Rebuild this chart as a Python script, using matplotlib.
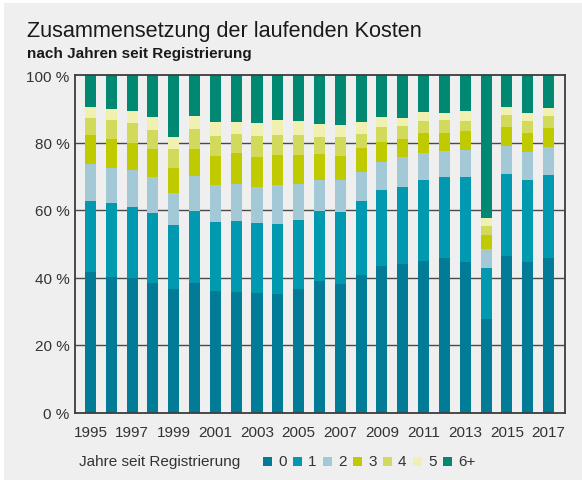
import matplotlib.pyplot as plt
from matplotlib.patches import Rectangle
import numpy as np

plt.rcParams['font.family'] = ['Liberation Sans', 'DejaVu Sans']

years = np.arange(1995, 2018)
jahr0 = [41.5, 40.1, 39.8, 38.3, 36.5, 38.3, 35.9, 35.6, 35.3, 35.0, 36.5, 38.9,
         38.0, 40.7, 43.3, 43.9, 44.8, 45.7, 44.5, 27.6, 46.3, 44.5, 45.7]
jahr1 = [21.1, 21.9, 21.0, 20.8, 19.0, 21.3, 20.5, 21.1, 20.8, 20.8, 20.5, 20.7,
         21.3, 21.9, 22.6, 22.9, 24.0, 24.0, 25.2, 15.1, 24.3, 24.3, 24.6]
jahr2 = [11.0, 10.4, 11.0, 10.6, 9.5, 10.4, 11.0, 11.0, 10.7, 11.6, 10.7, 9.2,
         9.5, 8.6, 8.3, 8.9, 8.1, 7.7, 8.0, 5.7, 8.3, 8.4, 8.3]
jahr3 = [8.6, 8.6, 8.0, 8.3, 7.4, 8.0, 8.6, 9.2, 8.9, 8.9, 8.6, 7.8,
         7.2, 7.1, 5.9, 5.3, 5.9, 5.4, 5.7, 4.1, 5.7, 5.6, 5.7]
jahr4 = [5.0, 5.6, 6.0, 5.7, 5.6, 6.0, 5.9, 5.6, 6.2, 5.9, 5.9, 5.0,
         5.6, 4.2, 4.5, 3.9, 3.6, 3.8, 3.0, 2.7, 3.5, 3.6, 3.5]
jahr5 = [3.3, 3.3, 3.5, 3.8, 3.6, 3.8, 4.2, 3.6, 3.9, 4.4, 4.2, 3.9,
         3.6, 3.6, 2.9, 2.3, 2.6, 2.1, 2.9, 2.4, 2.4, 2.3, 2.4]
jahr6 = [9.5, 10.1, 10.7, 12.5, 18.4, 12.2, 13.9, 13.9, 14.2, 13.4, 13.6, 14.5,
         14.8, 13.9, 12.5, 12.8, 11.0, 11.3, 10.7, 42.4, 9.5, 11.3, 9.8]

serien = [jahr0, jahr1, jahr2, jahr3, jahr4, jahr5, jahr6]
labels = ['0', '1', '2', '3', '4', '5', '6+']
colors = ['#027b96', '#0099b0', '#a3c9d7', '#bfcb00', '#d1da5a', '#f0f0b0', '#008873']
bg = '#efefef'

W, H = 582, 481
fig = plt.figure(figsize=(W / 100, H / 100), dpi=100, facecolor='white')
fig.patches.append(Rectangle((4 / W, 0), 1, 1 - 4 / H, transform=fig.transFigure,
                             facecolor=bg, edgecolor='none', zorder=-10))

ax = fig.add_axes([75 / W, 1 - 413.5 / H, 490 / W, 337.5 / H])
ax.set_facecolor(bg)

bottom = np.zeros(len(years))
for werte, c in zip(serien, colors):
    ax.bar(years, werte, bottom=bottom, width=0.53, color=c, zorder=2)
    bottom += np.array(werte)

ax.set_xlim(1994.26, 2017.79)
ax.set_ylim(0, 100)
ax.set_yticks([0, 20, 40, 60, 80, 100])
ax.set_yticklabels(['0 %', '20 %', '40 %', '60 %', '80 %', '100 %'])
ax.set_xticks(years[::2])
ax.tick_params(length=0, labelsize=11, labelcolor='#333333')
ax.tick_params(axis='x', pad=9)
ax.tick_params(axis='y', pad=4)
for g in [20, 40, 60, 80]:
    ax.axhline(g, color='#4a4a4a', lw=1.0, zorder=1)
for s in ax.spines.values():
    s.set_color('#3c3c3c')
    s.set_linewidth(1.3)

fig.text(27 / W, 1 - 37.5 / H, 'Zusammensetzung der laufenden Kosten', fontsize=15.6,
         color='#1a1a1a', va='baseline')
fig.text(27 / W, 1 - 58 / H, 'nach Jahren seit Registrierung', fontsize=11,
         fontweight='bold', color='#1a1a1a', va='baseline')

# Legende
ly = 462.5
fig.text(79 / W, 1 - ly / H, 'Jahre seit Registrierung', fontsize=11,
         color='#333333', va='center')
for i, (lab, c) in enumerate(zip(labels, colors)):
    x0 = 263 + 30 * i
    fig.patches.append(Rectangle((x0 / W, 1 - 466.5 / H), 9 / W, 9 / H,
                                 transform=fig.transFigure, facecolor=c,
                                 edgecolor='none', zorder=3))
    fig.text((x0 + 15) / W, 1 - ly / H, lab, fontsize=11, color='#333333', va='center')

fig.savefig('out.png', dpi=100, facecolor=fig.get_facecolor())
